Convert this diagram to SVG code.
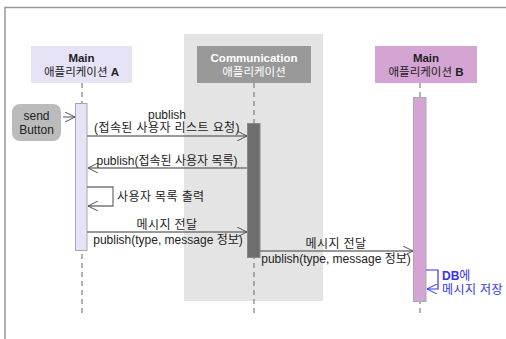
<svg xmlns="http://www.w3.org/2000/svg" width="506" height="339" viewBox="0 0 506 339">
<style>
text{font-family:"Liberation Sans","Noto Sans CJK KR",sans-serif;font-size:12px;fill:#222}
.h{font-size:11.5px}
.b{font-weight:bold}
.m{text-anchor:middle}
.life{stroke:#666;stroke-width:1;stroke-dasharray:5,4;fill:none}
.msg{stroke:#777;stroke-width:1.3;fill:none}
.blue{stroke:#3333ee;stroke-width:1.2;fill:none}
</style>
<defs>
<marker id="ah" markerWidth="12" markerHeight="10" refX="10" refY="5" orient="auto" markerUnits="userSpaceOnUse">
<path d="M0,0 L10,5 L0,10" fill="none" stroke="#555" stroke-width="1"/>
</marker>
<marker id="ahb" markerWidth="12" markerHeight="10" refX="10" refY="5" orient="auto" markerUnits="userSpaceOnUse">
<path d="M0,0 L10,5 L0,10" fill="none" stroke="#3333ee" stroke-width="1"/>
</marker>
</defs>
<rect width="506" height="339" fill="#fff"/>
<path d="M5,339 V7.5 H506" fill="none" stroke="#999" stroke-width="1.5"/>
<rect x="184" y="34" width="139" height="267" fill="#e4e4e4"/>
<g id="lifelines">
<line class="life" x1="82" y1="83" x2="82" y2="314"/>
<line class="life" x1="254" y1="83" x2="254" y2="314"/>
<line class="life" x1="420" y1="83" x2="420" y2="316"/>
</g>
<g id="nodeA">
<rect x="31" y="46" width="101" height="37" fill="#e6e3f6"/>
<text class="h b m" x="81.5" y="62">Main</text>
<text class="h m" x="81.5" y="76">애플리케이션 <tspan class="b">A</tspan></text>
</g>
<g id="nodeComm">
<rect x="197" y="46" width="114" height="37" fill="#999"/>
<text class="h b m" x="254" y="62" style="fill:#fff">Communication</text>
<text class="h m" x="254" y="76" style="fill:#fff">애플리케이션</text>
</g>
<g id="nodeB">
<rect x="375" y="46" width="102" height="37" fill="#d4a5d2"/>
<text class="h b m" x="426" y="62">Main</text>
<text class="h m" x="426" y="76">애플리케이션 <tspan class="b">B</tspan></text>
</g>
<g id="sendButton">
<rect x="12" y="104" width="49" height="37" rx="8" fill="#bbb"/>
<text class="m" x="36.5" y="120">send</text>
<text class="m" x="36.5" y="134">Button</text>
</g>
<g id="actA"><rect x="75.5" y="103.5" width="11.5" height="147" fill="#e6e3f6" stroke="#aaa"/></g>
<g id="actComm"><rect x="247.5" y="123.5" width="12.5" height="134" fill="#6e6e6e" stroke="#888"/></g>
<g id="actB"><rect x="413.5" y="97.5" width="12.5" height="204" fill="#d4a5d4" stroke="#aaa"/></g>
<g id="connectors">
<line class="msg" x1="63" y1="117" x2="75" y2="117" marker-end="url(#ah)"/>
<line class="msg" x1="87" y1="136" x2="247" y2="136" marker-end="url(#ah)"/>
<line class="msg" x1="247" y1="168" x2="88" y2="168" marker-end="url(#ah)"/>
<polyline class="msg" points="87,187 113,187 113,206 88,206" marker-end="url(#ah)"/>
<line class="msg" x1="87" y1="232" x2="247" y2="232" marker-end="url(#ah)"/>
<line class="msg" x1="260" y1="251" x2="413" y2="251" marker-end="url(#ah)"/>
<polyline class="blue" points="426,270 438,270 438,289 427,289" marker-end="url(#ahb)"/>
</g>
<g id="labels">
<text class="m" x="167" y="119">publish</text>
<text class="m" x="167" y="132" letter-spacing="0.4">(접속된 사용자 리스트 요청)</text>
<text class="m" x="167" y="165">publish(접속된 사용자 목록)</text>
<text x="117" y="201" letter-spacing="0.4">사용자 목록 출력</text>
<text class="m" x="167" y="229" letter-spacing="0.4">메시지 전달</text>
<text class="m" x="168" y="244">publish(type, message 정보)</text>
<text class="m" x="336" y="248" letter-spacing="0.4">메시지 전달</text>
<text class="m" x="336" y="263">publish(type, message 정보)</text>
<text x="442" y="280" style="fill:#3333ee"><tspan class="b">DB</tspan>에</text>
<text x="442" y="294" style="fill:#3333ee" letter-spacing="0.4">메시지 저장</text>
</g>
</svg>
